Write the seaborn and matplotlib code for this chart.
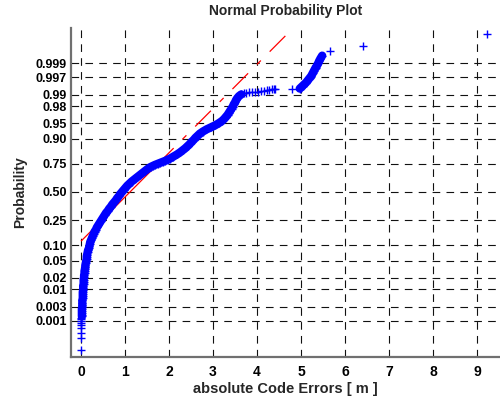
import numpy as np
import pandas as pd
import matplotlib
matplotlib.use("Agg")
import matplotlib.pyplot as plt
import seaborn as sns
from statistics import NormalDist

# ---- data ----
# normal score of plotting position (y) and absolute code error (x)
score = [
    -3.79, -3.51, -3.37, -3.27, -3.20, -3.14, -3.09, -3.05, -3.01, -2.98,
    -2.94, -2.90, -2.85, -2.80, -2.75, -2.70, -2.65, -2.60, -2.55, -2.50,
    -2.45, -2.40, -2.35, -2.30, -2.25, -2.20, -2.15, -2.10, -2.05, -2.00,
    -1.95, -1.90, -1.85, -1.80, -1.75, -1.70, -1.65, -1.60, -1.55, -1.50,
    -1.45, -1.40, -1.35, -1.30, -1.25, -1.20, -1.15, -1.10, -1.05, -1.00,
    -0.95, -0.90, -0.85, -0.80, -0.75, -0.70, -0.65, -0.60, -0.55, -0.50,
    -0.45, -0.40, -0.35, -0.30, -0.25, -0.20, -0.15, -0.10, -0.05, 0.00,
    0.05, 0.10, 0.15, 0.20, 0.25, 0.30, 0.35, 0.40, 0.45, 0.50,
    0.55, 0.60, 0.625, 0.65, 0.675, 0.70, 0.725, 0.75, 0.775, 0.80,
    0.85, 0.90, 0.95, 1.00, 1.05, 1.10, 1.15, 1.20, 1.25, 1.30,
    1.35, 1.40, 1.45, 1.50, 1.55, 1.60, 1.65, 1.70, 1.75, 1.80,
    1.85, 1.90, 1.95, 2.00, 2.05, 2.10, 2.15, 2.20, 2.25, 2.30,
    2.34,
    2.37, 2.38, 2.39, 2.40, 2.41, 2.41, 2.42, 2.43, 2.44, 2.45, 2.46, 2.47, 2.47,
    2.47,
    2.48, 2.50, 2.52, 2.55, 2.58, 2.62, 2.66, 2.70, 2.74, 2.78,
    2.82, 2.86, 2.90, 2.94, 2.98, 3.01, 3.05, 3.09, 3.14, 3.20, 3.27,
    3.37, 3.51, 3.79,
]
err = [
    0.00, 0.00, 0.01, 0.01, 0.01, 0.01, 0.01, 0.01, 0.01, 0.02,
    0.02, 0.02, 0.02, 0.02, 0.03, 0.03, 0.03, 0.03, 0.04, 0.04,
    0.04, 0.04, 0.05, 0.05, 0.05, 0.06, 0.06, 0.06, 0.07, 0.07,
    0.08, 0.08, 0.09, 0.10, 0.10, 0.11, 0.12, 0.13, 0.13, 0.14,
    0.15, 0.16, 0.18, 0.19, 0.20, 0.21, 0.23, 0.25, 0.27, 0.29,
    0.31, 0.34, 0.36, 0.39, 0.42, 0.45, 0.48, 0.51, 0.54, 0.57,
    0.61, 0.64, 0.68, 0.71, 0.75, 0.79, 0.82, 0.86, 0.89, 0.93,
    0.97, 1.01, 1.05, 1.10, 1.15, 1.21, 1.27, 1.33, 1.39, 1.45,
    1.51, 1.58, 1.63, 1.68, 1.74, 1.80, 1.86, 1.92, 1.97, 2.02,
    2.10, 2.18, 2.25, 2.31, 2.37, 2.42, 2.47, 2.51, 2.56, 2.60,
    2.65, 2.70, 2.77, 2.85, 2.95, 3.05, 3.13, 3.20, 3.25, 3.29,
    3.33, 3.36, 3.39, 3.42, 3.45, 3.47, 3.50, 3.52, 3.55, 3.59,
    3.64,
    3.70, 3.76, 3.82, 3.88, 3.95, 4.02, 4.08, 4.15, 4.22, 4.28, 4.33, 4.38, 4.41,
    4.80,
    4.97, 4.99, 5.01, 5.04, 5.07, 5.11, 5.14, 5.17, 5.20, 5.23,
    5.25, 5.27, 5.29, 5.31, 5.33, 5.35, 5.37, 5.39, 5.41, 5.44, 5.48,
    5.66, 6.41, 9.23,
]

# reference line parameters
ref_mu = 1.113
ref_sigma = 0.943

prob_ticks = [0.001, 0.003, 0.01, 0.02, 0.05, 0.10, 0.25, 0.50,
              0.75, 0.90, 0.95, 0.98, 0.99, 0.997, 0.999]
prob_labels = ["0.001", "0.003", "0.01", "0.02", "0.05", "0.10", "0.25", "0.50",
               "0.75", "0.90", "0.95", "0.98", "0.99", "0.997", "0.999"]
x_ticks = [0, 1, 2, 3, 4, 5, 6, 7, 8, 9]

title = "Normal Probability Plot"
xlabel = "absolute Code Errors [ m ]"
ylabel = "Probability"

# ---- plotting ----
sns.set_style("white")
plt.rcParams["font.family"] = ["Liberation Sans", "DejaVu Sans"]
plt.rcParams["lines.scale_dashes"] = False

fig = plt.figure(figsize=(5, 4), dpi=100)
ax = fig.add_axes([71 / 500, 43 / 400, 429 / 500, 329 / 400])

df = pd.DataFrame({"err": err, "score": score})

# reference line: solid between quartiles, dash-dot outside
zq = NormalDist().inv_cdf(0.75)
x_lo, x_hi = min(err), max(err)
x_q1 = ref_mu - zq * ref_sigma
x_q3 = ref_mu + zq * ref_sigma
lw_ref = 0.9
for xs, ls in [((x_lo, x_q1), (0, (16, 9, 4, 9))),
               ((x_q1, x_q3), "-"),
               ((x_q3, x_hi), (0, (16, 9, 4, 9)))]:
    seg = pd.DataFrame({"x": list(xs)})
    seg["z"] = (seg["x"] - ref_mu) / ref_sigma
    sns.lineplot(data=seg, x="x", y="z", ax=ax, color="#ff0000",
                 linewidth=lw_ref, linestyle=ls, zorder=2)

# the sample markers are so dense that they merge into a solid band
dense = df[(df["score"] >= -3.0) & (df["err"] <= 3.65)]
cluster = df[(df["err"] >= 4.95) & (df["err"] <= 5.5)]
for part in (dense, cluster):
    sns.lineplot(data=part, x="err", y="score", ax=ax, sort=False,
                 estimator=None, color="#0000ff", linewidth=6.0,
                 solid_capstyle="round", solid_joinstyle="round", zorder=3)

sns.scatterplot(data=df, x="err", y="score", ax=ax, marker="+",
                color="#0000ff", s=40, linewidth=1.0, zorder=4)

ax.set_xlim(-0.227, 9.52)
ax.set_ylim(-3.957, 3.933)

ax.set_xticks(x_ticks)
ax.set_xticklabels([str(t) for t in x_ticks], fontweight="bold", fontsize=10)
ax.set_yticks([NormalDist().inv_cdf(p) for p in prob_ticks])
ax.set_yticklabels(prob_labels, fontweight="bold", fontsize=9)

ax.grid(True, color="#111111", linestyle=(0, (5.5, 4.5)), linewidth=0.8)
ax.set_axisbelow(True)

for side in ["top", "right"]:
    ax.spines[side].set_visible(False)
for side in ["left", "bottom"]:
    ax.spines[side].set_color("#707070")
    ax.spines[side].set_linewidth(1.6)

ax.tick_params(axis="both", direction="in", length=4, width=0.8,
               color="#333333", pad=3, labelcolor="black")
ax.tick_params(axis="x", pad=6)

ax.set_title(title, fontweight="bold", fontsize=10, pad=9)
ax.set_xlabel(xlabel, fontweight="bold", fontsize=10.5, labelpad=2)
ax.set_ylabel(ylabel, fontweight="bold", fontsize=10, labelpad=6)

fig.savefig("out.png", dpi=100)
